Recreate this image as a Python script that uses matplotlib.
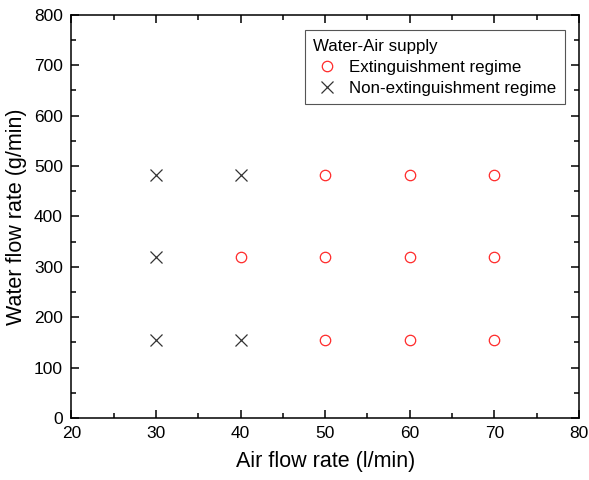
import matplotlib.pyplot as plt
from matplotlib.ticker import MultipleLocator

plt.rcParams['font.family'] = ['Liberation Sans', 'DejaVu Sans']

# Extinguishment regime (red circles)
ext_air = [40, 50, 50, 50, 60, 60, 60, 70, 70, 70]
ext_water = [320, 155, 320, 483, 155, 320, 483, 155, 320, 483]

# Non-extinguishment regime (black crosses)
non_air = [30, 30, 30, 40, 40]
non_water = [155, 320, 483, 155, 483]

fig, ax = plt.subplots(figsize=(5.89, 4.80), dpi=100)
fig.subplots_adjust(left=0.121, right=0.983, top=0.969, bottom=0.129)

ax.plot(ext_air, ext_water, linestyle="none", marker="o", markersize=7.5,
        markerfacecolor="none", markeredgecolor="#ff2a2a", markeredgewidth=0.9,
        label="Extinguishment regime")
ax.plot(non_air, non_water, linestyle="none", marker="x", markersize=8,
        color="#333333", markeredgewidth=0.9,
        label="Non-extinguishment regime")

ax.set_xlim(20, 80)
ax.set_ylim(0, 800)
ax.xaxis.set_major_locator(MultipleLocator(10))
ax.xaxis.set_minor_locator(MultipleLocator(5))
ax.yaxis.set_major_locator(MultipleLocator(100))
ax.yaxis.set_minor_locator(MultipleLocator(50))
ax.tick_params(which="both", direction="in", top=True, right=True,
               labelsize=12.5, width=1.1, pad=6)
ax.tick_params(which="major", length=6)
ax.tick_params(which="minor", length=3.5)
for s in ax.spines.values():
    s.set_linewidth(1.1)

ax.set_xlabel("Air flow rate (l/min)", fontsize=15.5, labelpad=7)
ax.set_ylabel("Water flow rate (g/min)", fontsize=15.5, labelpad=5)

leg = ax.legend(title="Water-Air supply", loc="upper right",
                bbox_to_anchor=(0.972, 0.962), fontsize=12.2, title_fontsize=12.2,
                fancybox=False, edgecolor="#555555", framealpha=1,
                handlelength=1.6, handletextpad=0.5, borderpad=0.5,
                labelspacing=0.35, borderaxespad=0)
leg._legend_box.align = "left"
leg.get_frame().set_linewidth(0.8)

fig.savefig("out.png", dpi=100)
